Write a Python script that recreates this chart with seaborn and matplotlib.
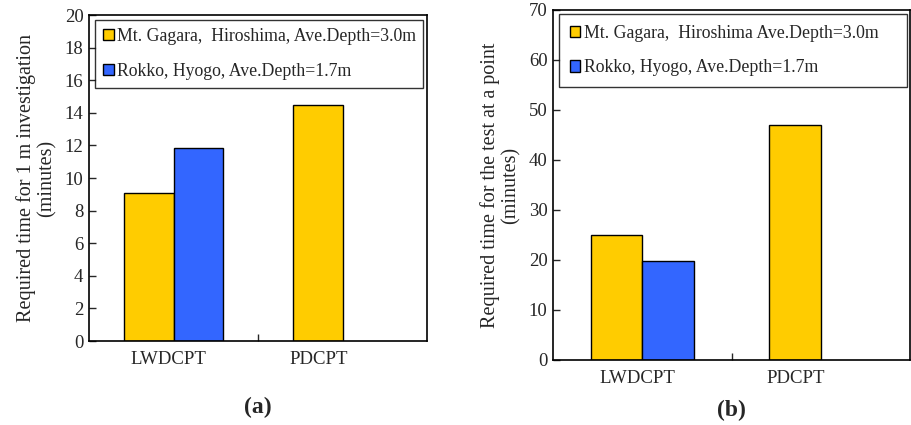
import matplotlib
matplotlib.use("Agg")
import matplotlib.pyplot as plt
import seaborn as sns
import pandas as pd
import numpy as np
from matplotlib.patches import Patch

# ---- data ----
methods = ["LWDCPT", "PDCPT"]
sites_a = ["Mt. Gagara,  Hiroshima, Ave.Depth=3.0m", "Rokko, Hyogo, Ave.Depth=1.7m"]
sites_b = ["Mt. Gagara,  Hiroshima Ave.Depth=3.0m", "Rokko, Hyogo, Ave.Depth=1.7m"]
gagara_a = [9.1, 14.5]
rokko_a = [11.85, np.nan]
gagara_b = [25.0, 47.0]
rokko_b = [19.8, np.nan]
yticks_a = list(range(0, 21, 2))
yticks_b = list(range(0, 71, 10))
colors = ["#FFCC00", "#3366FF"]

sns.set_theme(style="white")
plt.rcParams["font.family"] = ["Liberation Serif", "DejaVu Serif"]

fig = plt.figure(figsize=(9.12, 4.25), dpi=100)
ax_a = fig.add_axes([0.0976, 0.1976, 0.3706, 0.767])
ax_b = fig.add_axes([0.6064, 0.153, 0.3914, 0.8235])


def make_df(sites, g, r):
    rows = []
    for m, v in zip(methods, g):
        rows.append({"method": m, "site": sites[0], "value": v})
    for m, v in zip(methods, r):
        rows.append({"method": m, "site": sites[1], "value": v})
    return pd.DataFrame(rows)


def draw(ax, sites, g, r, yticks, ylabel, legend_bbox, tag, tag_y, bpad, htp):
    df = make_df(sites, g, r)
    sns.barplot(data=df, x="method", y="value", hue="site", order=methods,
                hue_order=sites, palette=colors, width=0.58, edgecolor="black",
                linewidth=1.0, saturation=1, legend=False, ax=ax)
    ax.set_xlim(-0.5, 1.5)
    ax.set_ylim(yticks[0], yticks[-1])
    ax.set_yticks(yticks)
    ax.set_yticklabels([str(t) for t in yticks], fontsize=13.5)
    ax.set_xticks([-0.03, 0.86])
    ax.set_xticklabels(methods, fontsize=13.5)
    ax.set_xticks([0.5], minor=True)
    ax.tick_params(axis="x", which="major", length=0, pad=7)
    ax.tick_params(axis="x", which="minor", direction="in", length=5, width=1, bottom=True)
    ax.tick_params(axis="y", direction="in", length=5, width=1, left=True, pad=4)
    ax.set_xlabel("")
    ax.set_ylabel(ylabel, fontsize=14.5, linespacing=1.05, labelpad=6)
    for s in ax.spines.values():
        s.set_visible(True)
        s.set_color("black")
        s.set_linewidth(1.2)
    handles = [Patch(facecolor=c, edgecolor="black", linewidth=1) for c in colors]
    leg = ax.legend(handles, sites, loc="upper left", bbox_to_anchor=legend_bbox,
                    mode="expand", fontsize=12.8, frameon=True, fancybox=False,
                    edgecolor="black", handlelength=0.6, handleheight=0.6,
                    handletextpad=htp, labelspacing=1.0, borderpad=bpad,
                    borderaxespad=0)
    leg.get_frame().set_linewidth(1.0)
    ax.text(0.5, tag_y, tag, transform=ax.transAxes, ha="center", va="center",
            fontsize=17, fontweight="bold")


draw(ax_a, sites_a, gagara_a, rokko_a, yticks_a,
     "Required time for 1 m investigation\n(minutes)",
     (0.018, 0.0, 0.97, 0.985), "(a)", -0.205, 0.45, 0.2)
draw(ax_b, sites_b, gagara_b, rokko_b, yticks_b,
     "Required time for the test at a point\n(minutes)",
     (0.017, 0.0, 0.975, 0.989), "(b)", -0.145, 0.6, 0.2)

fig.savefig("out.png", dpi=100)
